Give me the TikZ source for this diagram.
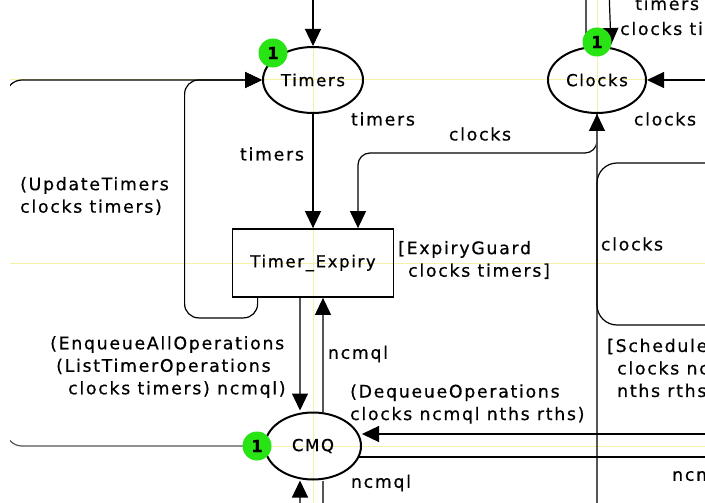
\documentclass[tikz,border=0pt]{standalone}
\usepackage{fontspec}
\setmainfont{DejaVu Sans}[LetterSpace=10,FakeBold=0.6]
\usetikzlibrary{arrows.meta,shapes.geometric,positioning}
\definecolor{tokengreen}{RGB}{40,228,20}
\definecolor{guideyellow}{RGB}{246,240,170}
\definecolor{linegray}{RGB}{85,85,85}
\newcommand{\cpnfont}{\fontsize{17.3}{22.5}\selectfont}
\newcommand{\cpnplace}{\fontsize{16.5}{20}\selectfont}

\begin{document}
\begin{tikzpicture}[x=1pt,y=-1pt,
  place/.style={ellipse,draw,line width=2pt,inner sep=0pt,font=\cpnplace},
  trans/.style={rectangle,draw,line width=1.8pt,minimum width=161pt,minimum height=68pt,font=\cpnplace},
  token/.style={circle,fill=tokengreen,inner sep=0pt,minimum size=29pt,font=\cpnplace\bfseries},
  arc/.style={line width=1.2pt,-{Triangle[length=17pt,width=16pt,color=black]}},
  line/.style={line width=1.2pt},
  guide/.style={line width=1pt,draw=guideyellow},
  inscr/.style={font=\cpnfont,align=left,inner sep=0pt}]
\useasboundingbox (0,0) rectangle (705,503);
\clip (10,0) rectangle (705,503);

\draw[guide] (0,80) -- (705,80);
\draw[guide] (0,263) -- (705,263);
\draw[guide] (270,446) -- (705,446);
\draw[guide] (597,0) -- (597,503);
\draw[guide] (313,0) -- (313,503);

\node[place,minimum width=100pt,minimum height=66pt] (Timers) at (313,80) {Timers};
\node[place,minimum width=98pt,minimum height=66pt] (Clocks) at (597,80) {Clocks};
\node[place,minimum width=96pt,minimum height=67pt] (CMQ) at (313,446) {CMQ};
\node[trans] (TE) at (313,263) {Timer\_Expiry};

\coordinate (timersIn) at (313,-10);
\coordinate (updT) at (6,263);
\coordinate (clocksInA) at (586,-10);
\coordinate (clocksInB) at (609,-10);
\coordinate (clocksE) at (720,80);
\coordinate (clocksS) at (597,520);
\coordinate (schedA) at (720,163);
\coordinate (schedB) at (720,325);
\coordinate (deqIn) at (720,434);
\coordinate (cmqOut) at (720,457);
\coordinate (cmqInS) at (300,520);
\coordinate (cmqOutS) at (323,520);

\draw[arc] (timersIn) -- (Timers.north);
\draw[arc,rounded corners=16pt] (updT) |- (Timers.west);
\draw[arc,rounded corners=16pt,draw=linegray] (updT) |- (CMQ.west);
\draw[arc,rounded corners=14pt] ([xshift=26pt]TE.south west) -- ++(0,20) -- ++(-73,0) |- (Timers.west);
\draw[arc] (Timers.south) -- (TE.north);
\draw[arc,rounded corners=12pt] (Clocks.south) -- ++(0,39) -| ([xshift=45pt]TE.north);
\draw[arc,draw=linegray] (clocksS) -- (Clocks.south);
\draw[line,rounded corners=20pt] (schedA) -- (597,163) -- (597,325) -- (schedB);
\draw[arc] (clocksE) -- (Clocks.east);
\draw[line,draw=linegray] (clocksInA) -- (clocksInA |- Clocks.north);
\draw[arc] (clocksInB) -- ([xshift=2pt,yshift=1pt]clocksInB |- Clocks.north);
\draw[arc,draw=linegray] ([xshift=-13pt]TE.south) -- ([xshift=-13pt,yshift=1pt]CMQ.north);
\draw[arc,draw=linegray] ([xshift=10pt]CMQ.north) -- ([xshift=10pt]TE.south);
\draw[arc] (deqIn) -- (CMQ.east |- deqIn);
\draw[line] ([xshift=-3pt]CMQ.east |- cmqOut) -- (cmqOut);
\draw[arc,draw=linegray] (cmqInS) -- ([xshift=-13pt]CMQ.south);
\draw[line,draw=linegray] ([xshift=10pt]CMQ.south) -- (cmqOutS);

\node[token] (tokT) at (273,53) {1};
\node[token] (tokC) at (597,42) {1};
\node[token] (tokQ) at (257,446) {1};

\node[inscr] (lTimers) at (272,154) {timers};
\node[inscr] (lTimersB) at (383,119) {timers};
\node[inscr,anchor=west] (lUpd) at (20,196) {(UpdateTimers\\clocks timers)};
\node[inscr] (lClkA) at (480,134) {clocks};
\node[inscr] (lClkB) at (665,119) {clocks};
\node[inscr] (lClkC) at (632,244) {clocks};
\node[inscr,anchor=west] (guardTE) at (398,260) {[ExpiryGuard\\\hspace*{10pt}clocks timers]};
\node[inscr,anchor=west] (lEnq) at (50,367) {(EnqueueAllOperations\\\hspace*{6pt}(ListTimerOperations\\\hspace*{18pt}clocks timers) ncmql)};
\node[inscr] (lNcA) at (358,354) {ncmql};
\node[inscr,anchor=west] (lDeq) at (350,404) {(DequeueOperations\\clocks ncmql nths rths)};
\node[inscr] (lNcB) at (381,483) {ncmql};
\node[inscr,anchor=west] (guardSch) at (607,368) {[Schedule\\\hspace*{10pt}clocks nc\\\hspace*{10pt}nths rths};
\node[inscr,anchor=west] (lNcC) at (672,476) {ncmql};
\node[inscr,anchor=base west] (lTopA) at (635,10) {timers};
\node[inscr,anchor=base west] (lTopB) at (620,35) {clocks timers};
\end{tikzpicture}
\end{document}
